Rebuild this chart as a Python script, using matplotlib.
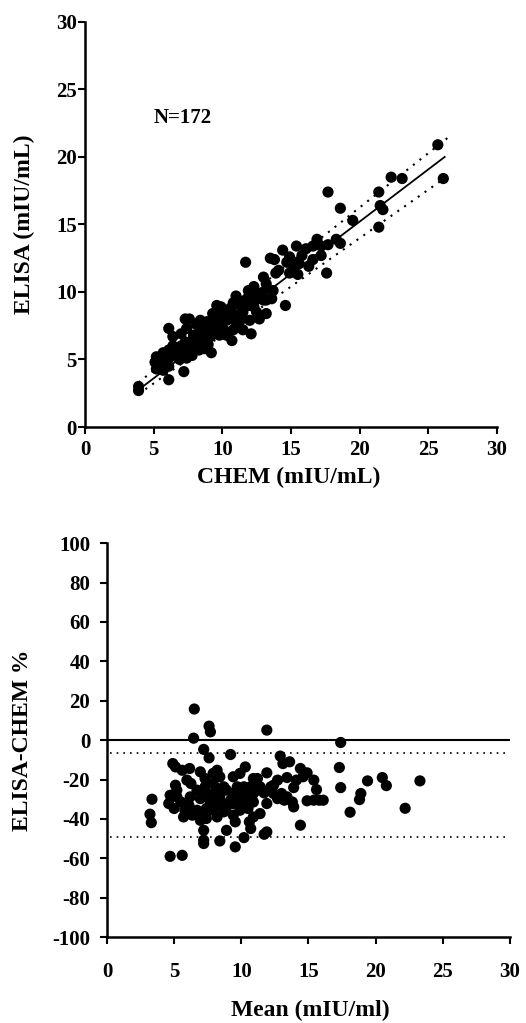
import matplotlib

matplotlib.use("Agg")
import matplotlib.pyplot as plt  # noqa: E402

plt.rcParams["font.family"] = ["Liberation Serif", "DejaVu Serif"]
plt.rcParams["font.weight"] = "bold"
plt.rcParams["axes.unicode_minus"] = False

# top panel: ELISA vs CHEM (mIU/mL)
chem = [25.7, 26.1, 22.3, 23.1, 21.4, 21.5, 21.7, 21.4, 17.7, 18.6, 19.5, 18.3,
        17.7, 18.6, 17.2, 17.6, 16.9, 16.1, 15.4, 14.4, 15.8, 16.3, 15.4, 14.7,
        13.5, 13.8, 11.7, 13.9, 14.9, 15.5, 14.6, 13.0, 13.2, 13.7, 13.0, 13.2,
        13.6, 12.7, 13.2, 12.1, 11.9, 12.3, 11.8, 11.4, 11.0, 10.8, 10.6, 10.9,
        11.5, 12.3, 12.5, 11.3, 10.8, 10.7, 10.1, 9.6, 9.8, 10.3, 9.3, 8.9,
        9.6, 9.9, 9.5, 9.1, 8.7, 8.4, 8.4, 7.9, 7.8, 8.3, 8.6, 8.97,
        9.2, 8.7, 7.4, 7.3, 7.6, 7.6, 7.4, 7.8, 7.2, 6.9, 6.7, 6.4,
        6.4, 6.1, 6.4, 6.9, 6.1, 5.7, 5.5, 5.1, 5.7, 5.2, 6.1, 6.1,
        3.9, 3.9, 5.9, 6.8, 8.4, 8.1, 9.3, 9.8, 8.9, 7.9, 7.3, 7.0,
        11.0, 11.5, 10.3, 10.6, 11.3, 11.9, 12.4, 12.6, 12.0, 13.0, 10.3, 8.4,
        9.1, 8.7, 8.3, 7.0, 6.1, 5.2, 5.7, 7.4, 9.3, 14.1, 15.2, 15.6,
        14.9, 16.6, 17.2, 16.6, 12.3, 10.8, 9.9, 9.6]
elisa = [20.9, 18.4, 18.5, 18.4, 17.4, 16.4, 16.1, 14.8, 17.4, 16.2, 15.3, 13.9,
         13.5, 13.6, 12.7, 11.4, 13.9, 13.2, 13.4, 13.1, 12.7, 11.9, 12.1, 12.2,
         12.5, 12.4, 12.2, 11.4, 11.4, 11.3, 9.0, 11.1, 10.6, 10.1, 10.0, 9.4,
         9.5, 8.0, 8.4, 6.9, 10.1, 9.9, 9.5, 9.3, 9.7, 9.2, 8.5, 8.3,
         8.5, 8.9, 8.5, 7.9, 7.2, 6.4, 7.2, 9.0, 8.2, 7.9, 7.9, 7.8,
         7.6, 7.3, 6.9, 6.7, 7.1, 7.2, 6.7, 6.8, 6.4, 6.2, 6.0, 6.1,
         5.5, 5.8, 7.3, 8.0, 8.0, 6.0, 5.6, 5.3, 4.1, 5.5, 5.7, 6.0,
         6.7, 7.3, 5.3, 5.0, 5.1, 5.5, 4.7, 4.8, 4.2, 4.3, 4.5, 3.5,
         3.0, 2.7, 4.7, 5.1, 7.9, 7.6, 7.3, 6.8, 6.4, 5.8, 6.3, 6.9,
         7.7, 7.2, 6.8, 8.8, 9.0, 9.0, 9.4, 9.9, 7.9, 9.4, 8.4, 7.0,
         7.6, 6.5, 5.7, 6.0, 5.7, 5.2, 5.0, 5.1, 8.4, 11.6, 11.9, 12.1,
         12.6, 12.4, 13.4, 13.4, 10.4, 8.3, 8.9, 8.3]

fit_x = [3.7, 26.2]
fit_y = [2.6, 20.0]
upper_x = [3.9, 26.4]
upper_y = [3.3, 21.4]
lower_x = [4.4, 26.3]
lower_y = [2.8, 18.5]

# bottom panel: Bland-Altman style, % difference vs mean
mean_val = [6.5, 7.6, 7.7, 6.45, 11.9, 17.4, 7.2, 7.6, 9.2, 12.9, 13.1, 13.6,
            14.4, 17.3, 17.4, 19.4, 20.5, 20.8, 23.3, 22.2, 18.1, 18.9, 18.8, 14.4,
            15.4, 15.6, 14.9, 16.1, 14.9, 13.9, 13.4, 13.9, 13.8, 13.4, 13.0, 12.4,
            11.9, 11.9, 11.7, 11.4, 11.7, 11.9, 10.7, 10.6, 10.2, 9.55, 9.55, 8.9,
            8.4, 7.2, 7.2, 7.2, 7.4, 6.95, 6.95, 5.6, 4.7, 3.35, 3.2, 3.3,
            4.9, 5.1, 5.6, 6.15, 5.95, 6.25, 5.1, 5.2, 4.7, 4.6, 5.0, 5.5,
            5.8, 6.1, 6.35, 5.7, 6.2, 5.2, 6.95, 7.3, 7.3, 7.9, 7.9, 8.2,
            8.4, 7.9, 7.7, 8.2, 8.7, 8.4, 8.9, 9.2, 9.4, 9.7, 9.9, 10.3,
            9.9, 10.4, 10.5, 10.9, 11.2, 11.2, 10.9, 9.9, 9.4, 8.9, 7.9, 7.4,
            6.7, 6.95, 10.9, 12.2, 12.7, 10.7, 10.2, 10.2, 9.4, 8.7, 8.2, 8.4,
            9.4, 9.9, 10.4, 11.4, 12.4, 12.7, 14.1, 14.6, 15.4, 15.8, 13.2, 7.4,
            6.7, 8.2, 10.9]
diff_pct = [15.8, 7.1, 4.2, 1.0, 5.1, -1.2, -4.7, -9.0, -7.3, -8.1, -11.9, -11.0,
            -14.4, -13.9, -24.1, -20.7, -19.0, -23.1, -20.7, -34.6, -36.6, -27.1, -30.2, -43.2,
            -20.3, -25.1, -30.8, -30.5, -16.6, -24.1, -19.0, -33.9, -31.4, -28.8, -27.1, -22.9,
            -16.6, -32.2, -26.8, -37.3, -47.8, -46.6, -44.9, -41.5, -49.5, -54.2, -41.5, -45.8,
            -51.2, -52.5, -50.8, -45.8, -39.8, -37.3, -29.7, -58.5, -59.0, -30.0, -37.6, -41.9,
            -11.9, -13.6, -15.3, -14.4, -20.3, -22.0, -22.9, -25.4, -28.0, -32.2, -34.7, -31.4,
            -35.6, -33.1, -38.1, -39.0, -28.8, -28.8, -16.1, -19.5, -23.7, -16.9, -22.0, -15.3,
            -18.6, -27.1, -31.4, -33.1, -36.4, -30.5, -25.4, -30.5, -18.6, -23.7, -16.9, -13.6,
            -28.8, -30.5, -34.7, -19.5, -19.5, -25.4, -31.4, -35.6, -38.1, -33.9, -35.6, -34.7,
            -35.6, -40.7, -27.1, -23.7, -20.3, -23.7, -23.7, -27.1, -27.1, -23.7, -24.6, -28.0,
            -32.2, -31.4, -25.4, -23.7, -27.1, -29.7, -20.3, -18.6, -30.5, -30.5, -30.5, -27.1,
            -25.4, -39.0, -39.0]
bias_upper = -6.3
bias_lower = -49.0

fig = plt.figure(figsize=(5.26, 10.23), dpi=100)
ax1 = fig.add_axes([0.1616, 0.5826, 0.783, 0.396])
ax2 = fig.add_axes([0.2034, 0.084, 0.766, 0.385])

for ax in (ax1, ax2):
    for side in ("top", "right"):
        ax.spines[side].set_visible(False)
    for side in ("left", "bottom"):
        ax.spines[side].set_linewidth(1.8)
    ax.tick_params(direction="out", length=5, width=1.5, labelsize=15, pad=4)
ax1.tick_params(axis="y", pad=1)
ax2.tick_params(axis="x", pad=13)
ax2.tick_params(axis="y", pad=7)

ax1.scatter(chem, elisa, s=65, color="black", edgecolors="none", zorder=3)
ax1.plot(fit_x, fit_y, color="black", lw=1.3, zorder=2)
ax1.plot(upper_x, upper_y, color="black", lw=1.5, ls=(0, (1, 3)), zorder=2)
ax1.plot(lower_x, lower_y, color="black", lw=1.5, ls=(0, (1, 3)), zorder=2)
ax1.set_xlim(0, 30)
ax1.set_ylim(0, 30)
ax1.set_xticks(range(0, 31, 5))
ax1.set_yticks(range(0, 31, 5))
ax1.text(5.0, 22.9, "N=172", fontsize=15, fontweight="bold", va="center")
ax1.set_xlabel("CHEM (mIU/mL)", fontsize=17, fontweight="bold")
ax1.set_ylabel("ELISA (mIU/mL)", fontsize=17, fontweight="bold")
ax1.xaxis.set_label_coords(0.495, -0.099)
ax1.yaxis.set_label_coords(-0.121, 0.5)

ax2.scatter(mean_val, diff_pct, s=65, color="black", edgecolors="none", zorder=3)
ax2.axhline(0, color="black", lw=1.5, zorder=2)
ax2.plot([0.2, 29.8], [bias_upper, bias_upper], color="black", lw=1.2,
         ls=(0, (1, 3)), zorder=2)
ax2.plot([0.2, 29.8], [bias_lower, bias_lower], color="black", lw=1.2,
         ls=(0, (1, 3)), zorder=2)
ax2.set_xlim(0, 30)
ax2.set_ylim(-100, 100)
ax2.set_xticks(range(0, 31, 5))
ax2.set_yticks(range(-100, 101, 20))
ax2.set_xlabel("Mean (mIU/ml)", fontsize=17, fontweight="bold")
ax2.set_ylabel("ELISA-CHEM %", fontsize=17, fontweight="bold")
ax2.xaxis.set_label_coords(0.505, -0.16)
ax2.yaxis.set_label_coords(-0.184, 0.5)

for ax in (ax1, ax2):
    for lab in ax.get_xticklabels() + ax.get_yticklabels():
        lab.set_fontweight("bold")

fig.savefig("out.png", dpi=100)
plt.close(fig)
